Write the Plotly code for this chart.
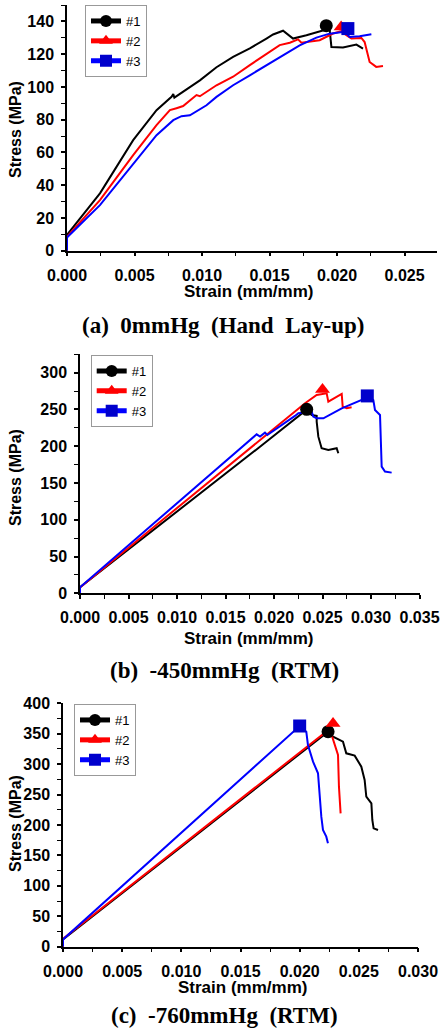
import plotly.graph_objects as go

# ---------------- data ----------------
series_names = ["#1", "#2", "#3"]
line_colors = ["#000000", "#FF0000", "#0000FF"]
marker_colors = ["#000000", "#FF0000", "#0000CC"]
marker_symbols = ["circle", "triangle-up", "square"]

# (a) 0mmHg (Hand Lay-up)
a1_strain = [0, 0, 0.00244, 0.0049, 0.00663, 0.00774, 0.00787, 0.00795, 0.00984, 0.01107, 0.0123, 0.01354,
             0.01477, 0.01526, 0.0160, 0.01674, 0.01773, 0.01871, 0.0192, 0.01945, 0.0195, 0.01958, 0.02044,
             0.02143, 0.02192]
a1_stress = [0, 9.6, 35, 67.5, 85.8, 94, 95.6, 93.5, 104, 112, 118.3, 123.5, 129.5, 132, 134.3, 129.5, 131.5,
             133.6, 135, 135, 130, 124.4, 124, 125.8, 123.4]
a2_strain = [0, 0, 0.00244, 0.0049, 0.00663, 0.00762, 0.00811, 0.0086, 0.00959, 0.00984, 0.01107, 0.0123,
             0.01354, 0.01477, 0.01575, 0.0165, 0.01711, 0.01736, 0.01871, 0.0197, 0.02032, 0.02069, 0.02106,
             0.0218, 0.02204, 0.02241, 0.0229, 0.0234]
a2_stress = [0, 8.5, 30.9, 58.4, 76.7, 85.8, 87, 88.3, 95, 94.3, 101, 106.2, 113.3, 120.4, 125.5, 127, 129, 127,
             128.5, 132.6, 134, 131.5, 129.5, 129.9, 127.4, 115.2, 112.2, 112.8]
a3_strain = [0, 0, 0.00244, 0.0049, 0.00663, 0.00787, 0.00848, 0.0091, 0.01033, 0.01107, 0.0123, 0.01354,
             0.01477, 0.016, 0.01723, 0.01847, 0.01945, 0.0204, 0.0207, 0.02093, 0.02167, 0.02254]
a3_stress = [0, 8.1, 27.8, 53.3, 70.5, 79.7, 82.1, 82.7, 88.8, 93.9, 101, 107.1, 113.2, 119.3, 125.4, 130.1,
             132.5, 133.5, 132.5, 130.5, 130.9, 132.1]
a_peak_strain = [0.0192, 0.0203, 0.0208]
a_peak_stress = [137.4, 136.6, 135.6]

# (b) -450mmHg (RTM)
b1_strain = [0, 0, 0.0193, 0.0234, 0.02388, 0.0244, 0.0244, 0.02457, 0.02491, 0.0256, 0.02646, 0.02663]
b1_stress = [0, 8.2, 207, 250, 242.5, 241.2, 233.5, 213, 197.2, 194.9, 197.2, 190.4]
b2_strain = [0, 0, 0.0232, 0.0244, 0.02543, 0.0256, 0.02698, 0.02708, 0.02749, 0.028]
b2_stress = [0, 8, 258.4, 269.7, 272, 260.7, 271.1, 253.9, 251.6, 253]
b3_strain = [0, 0, 0.01821, 0.01856, 0.01907, 0.01931, 0.02216, 0.02251, 0.02388, 0.02405, 0.0244, 0.02509,
             0.02698, 0.02904, 0.02962, 0.03024, 0.03041, 0.03093, 0.0311, 0.03144, 0.03213]
b3_stress = [0, 8.3, 216.2, 213.1, 218.5, 215.3, 241.2, 244.8, 247.1, 240.3, 238, 238, 251.6, 262.9, 268.4,
             262.9, 249.3, 242.5, 172.3, 165.5, 164.1]
b_peak_strain = [0.02337, 0.0250, 0.02962]
b_peak_stress = [250.2, 277, 268.4]

# (c) -760mmHg (RTM)
c1_strain = [0, 0, 0.0224, 0.02282, 0.02366, 0.02394, 0.02465, 0.02521, 0.02549, 0.02563, 0.02606, 0.02614,
             0.02625, 0.02662]
c1_stress = [0, 12, 353.4, 345.2, 337, 317.8, 314, 295.9, 274, 246.6, 235.6, 208.2, 194.5, 191.8]
c2_strain = [0, 0, 0.02254, 0.02276, 0.02324, 0.02332, 0.02346]
c2_stress = [0, 13, 358, 345.2, 315.1, 263, 219.2]
c3_strain = [0, 0, 0.02, 0.02056, 0.0207, 0.02113, 0.02155, 0.02169, 0.02183, 0.02197, 0.02225, 0.02239]
c3_stress = [0, 12, 362.7, 353.4, 331.5, 304.1, 284.9, 246.6, 213.7, 191.8, 180.8, 169.9]
c_peak_strain = [0.0224, 0.02282, 0.0200]
c_peak_stress = [353.4, 367, 362.7]

panel_titles = ["(a)  0mmHg  (Hand  Lay-up)", "(b)  -450mmHg  (RTM)", "(c)  -760mmHg  (RTM)"]
x_title = "Strain (mm/mm)"
y_title = "Stress (MPa)"

# ---------------- figure ----------------
W, H = 441, 1029
fig = go.Figure()

panels = [
    dict(curves=[(a1_strain, a1_stress), (a2_strain, a2_stress), (a3_strain, a3_stress)],
         peaks=(a_peak_strain, a_peak_stress), xr=[0, 0.0274], yr=[0, 150], ydt=20, ymin=10,
         xdom=[67, 437], ydom=[5, 250.7], legend=(85, 5)),
    dict(curves=[(b1_strain, b1_stress), (b2_strain, b2_stress), (b3_strain, b3_stress)],
         peaks=(b_peak_strain, b_peak_stress), xr=[0, 0.035], yr=[0, 325], ydt=50, ymin=25,
         xdom=[80, 419.5], ydom=[354.3, 593.3], legend=(90.7, 355)),
    dict(curves=[(c1_strain, c1_stress), (c2_strain, c2_stress), (c3_strain, c3_stress)],
         peaks=(c_peak_strain, c_peak_stress), xr=[0, 0.030], yr=[0, 400], ydt=50, ymin=25,
         xdom=[63, 418], ydom=[703.3, 946.7], legend=(74, 704)),
]

tick_font = dict(family="Liberation Sans", size=16, color="black", weight="bold")

for p_i, p in enumerate(panels):
    sfx = "" if p_i == 0 else str(p_i + 1)
    xa, ya = "x" + sfx, "y" + sfx
    leg = "legend" + sfx
    for s_i, (xs, ys) in enumerate(p["curves"]):
        fig.add_trace(go.Scatter(x=xs, y=ys, mode="lines", xaxis=xa, yaxis=ya, showlegend=False,
                                 line=dict(color=line_colors[s_i], width=2)))
    for s_i in range(3):
        fig.add_trace(go.Scatter(x=[p["peaks"][0][s_i]], y=[p["peaks"][1][s_i]], mode="lines+markers",
                                 name=series_names[s_i], xaxis=xa, yaxis=ya, legend=leg,
                                 line=dict(color=line_colors[s_i], width=2),
                                 marker=dict(symbol=marker_symbols[s_i], color=marker_colors[s_i], size=13),
                                 cliponaxis=False))
    axis_common = dict(showline=True, linecolor="black", linewidth=1.5, ticks="outside", ticklen=4,
                       tickwidth=1.5, tickcolor="black", showgrid=False, zeroline=False, tickfont=tick_font,
                       automargin=False)
    fig.layout["xaxis" + sfx] = dict(
        domain=[p["xdom"][0] / W, p["xdom"][1] / W], range=p["xr"], anchor=ya, dtick=0.005, tick0=0,
        tickformat=".3f", ticklabelstandoff=5,
        minor=dict(ticks="outside", ticklen=4, tickwidth=1.2, tickcolor="black", dtick=0.0025),
        **axis_common)
    fig.layout["yaxis" + sfx] = dict(
        domain=[1 - p["ydom"][1] / H, 1 - p["ydom"][0] / H], range=p["yr"], anchor=xa, dtick=p["ydt"], tick0=0,
        ticklabelstandoff=4,
        minor=dict(ticks="outside", ticklen=4, tickwidth=1.2, tickcolor="black", dtick=p["ymin"]),
        **axis_common)
    fig.layout[leg] = dict(x=p["legend"][0] / W, y=1 - p["legend"][1] / H, xanchor="left", yanchor="top",
                           bordercolor="#999999", borderwidth=1, bgcolor="white",
                           font=dict(family="Liberation Sans", size=13, color="black"),
                           itemsizing="constant", itemwidth=30, tracegroupgap=0)

# annotation texts: axis titles and panel captions
ann = []
y_title_pos = [(15, 130), (15, 478), (15, 824)]
x_title_pos = [(249, 291), (249, 638), (242.5, 987)]
cap_pos = [(223, 325), (224, 670), (224, 1015)]
for i in range(3):
    ann.append(dict(text=y_title, x=y_title_pos[i][0] / W, y=1 - y_title_pos[i][1] / H, xref="paper",
                    yref="paper", textangle=-90, showarrow=False, xanchor="center", yanchor="middle",
                    font=dict(family="Liberation Sans", size=16, color="black", weight="bold")))
    ann.append(dict(text=x_title, x=x_title_pos[i][0] / W, y=1 - x_title_pos[i][1] / H, xref="paper",
                    yref="paper", showarrow=False, xanchor="center", yanchor="middle",
                    font=dict(family="Liberation Sans", size=17, color="black", weight="bold")))
    ann.append(dict(text=panel_titles[i], x=cap_pos[i][0] / W, y=1 - cap_pos[i][1] / H, xref="paper",
                    yref="paper", showarrow=False, xanchor="center", yanchor="middle",
                    font=dict(family="Liberation Serif", size=23, color="black", weight="bold")))

fig.update_layout(width=W, height=H, margin=dict(l=0, r=0, t=0, b=0, autoexpand=False),
                  paper_bgcolor="white", plot_bgcolor="white", annotations=ann)

fig.write_html("out.html", config={"displayModeBar": False},
               post_script="document.body.style.margin='0px';document.body.style.padding='0px';"
                           "document.documentElement.style.overflow='hidden';")
